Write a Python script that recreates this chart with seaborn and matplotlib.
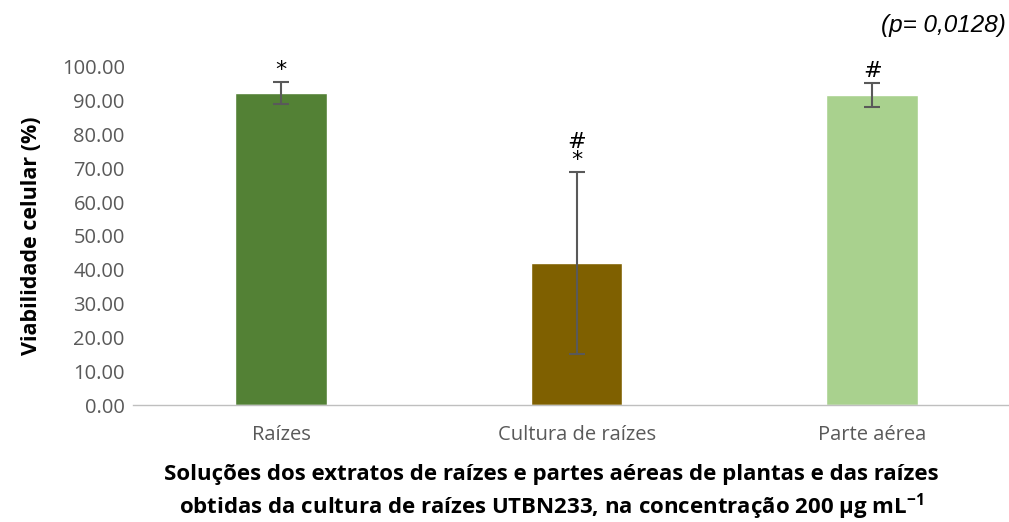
import matplotlib
matplotlib.use("Agg")
import matplotlib.pyplot as plt
import seaborn as sns
import pandas as pd

categories = ["Raízes", "Cultura de raízes", "Parte aérea"]
viability = [92.3, 42.0, 91.7]
errors = [3.3, 27.0, 3.5]
markers = ["*", "#\n*", "#"]
colors = ["#538135", "#7F6000", "#A9D18E"]
yticks = [0, 10, 20, 30, 40, 50, 60, 70, 80, 90, 100]

sns.set_theme(style="white")
plt.rcParams['font.family'] = ['Open Sans', 'DejaVu Sans']

df = pd.DataFrame({"cat": categories, "val": viability})

fig = plt.figure(figsize=(10.09, 5.22), dpi=100)
ax = fig.add_axes([0.132, 0.224, 0.879, 0.648])

sns.barplot(data=df, x="cat", y="val", hue="cat", palette=colors, legend=False,
            width=0.31, ax=ax, errorbar=None, saturation=1)
ax.errorbar(range(len(categories)), viability, yerr=errors, fmt="none",
            ecolor="#595959", elinewidth=1.5, capsize=6, capthick=1.5)

for i, (v, e, m) in enumerate(zip(viability, errors, markers)):
    ax.text(i, v + e + 0.5, m, ha="center", va="bottom", fontsize=16,
            color="black", family="DejaVu Sans", linespacing=0.9)

ax.set_ylim(0, 100)
ax.set_xlim(-0.5, 2.5)
ax.set_yticks(yticks)
ax.set_yticklabels([f"{t:.2f}" for t in yticks])
ax.tick_params(axis="y", colors="#595959", labelsize=14.5, length=0, pad=6)
ax.tick_params(axis="x", colors="#595959", labelsize=14.5, length=0, pad=14)
for s in ["top", "right", "left"]:
    ax.spines[s].set_visible(False)
ax.spines["bottom"].set_color("#BFBFBF")
ax.spines["bottom"].set_linewidth(1)

ax.set_ylabel("Viabilidade celular (%)", fontsize=15.5, fontweight="bold",
              color="black", labelpad=14)
ax.set_xlabel("Soluções dos extratos de raízes e partes aéreas de plantas e das raízes\n"
              "obtidas da cultura de raízes UTBN233, na concentração 200 µg mL$^{\\mathregular{-1}}$",
              fontsize=16, fontweight="bold", color="black", linespacing=1.25)
ax.xaxis.set_label_coords(0.472, -0.175)
ax.xaxis.label.set_va("top")

fig.text(0.997, 0.952, "(p= 0,0128)", ha="right", va="center", fontsize=17.5,
         style="italic", color="black", family="Liberation Sans")

fig.savefig("out.png", dpi=100)
